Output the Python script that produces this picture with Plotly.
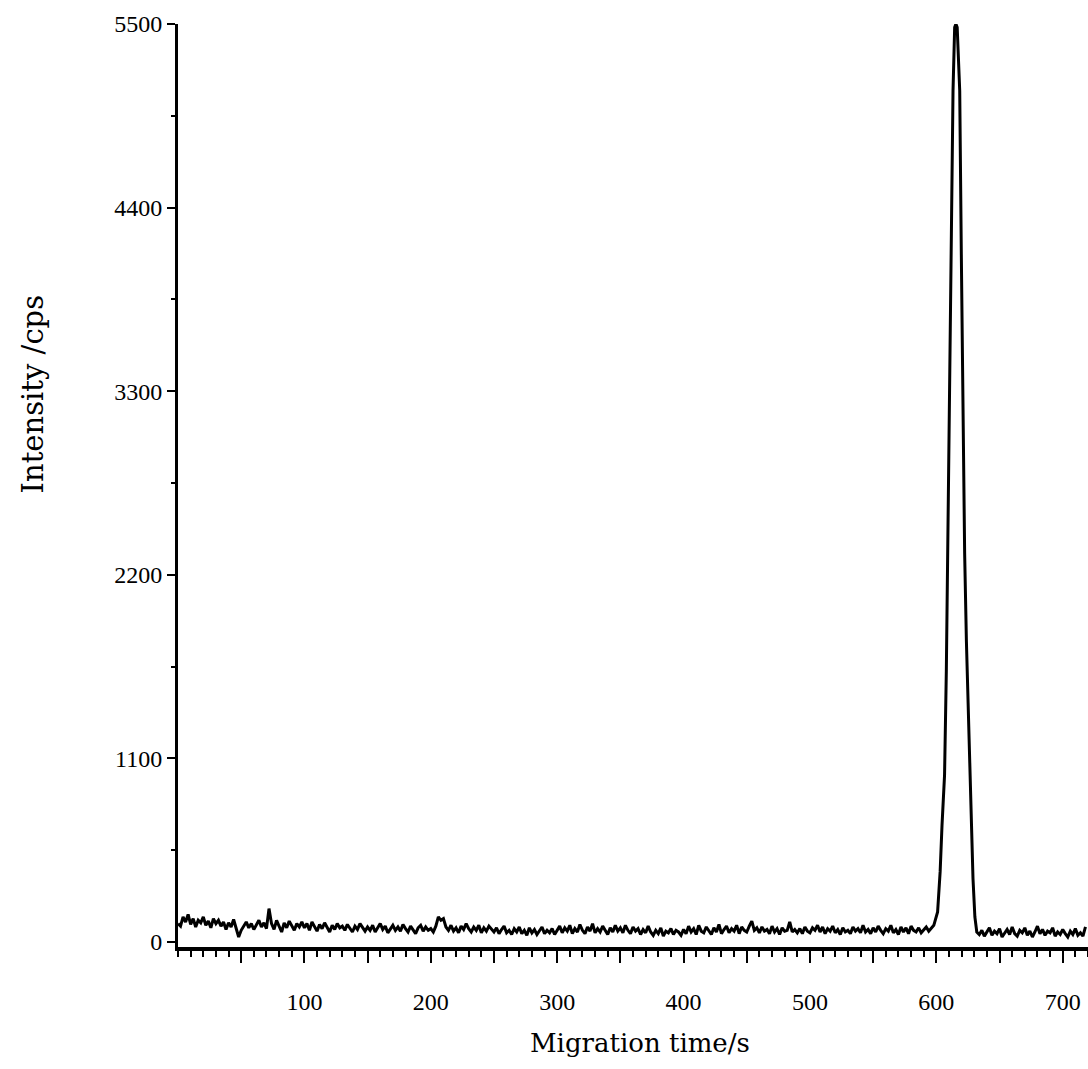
import plotly.graph_objects as go

# ---- data ----
# baseline before the peak, one value every 2 s from 0 s to 598 s
baseline_start_cps = [
    110, 95, 150, 120, 165, 105, 140, 90, 130, 115, 150, 100, 125, 85, 140, 110, 130, 95, 120, 75, 115, 90, 135, 80, 30,
    70, 95, 120, 85, 110, 75, 100, 130, 90, 115, 80, 200, 110, 75, 130, 95, 60, 115, 85, 125, 100, 70, 110, 90, 120,
    85, 110, 70, 120, 95, 65, 105, 80, 115, 90, 60, 100, 75, 110, 85, 95, 70, 105, 80, 60, 95, 75, 110, 85, 65,
    90, 70, 100, 60, 85, 110, 75, 95, 55, 80, 100, 70, 90, 65, 105, 80, 60, 95, 75, 50, 85, 100, 65, 90, 70,
    80, 60, 95, 150, 130, 140, 90, 70, 100, 65, 85, 55, 95, 75, 110, 80, 60, 90, 70, 100, 55, 85, 65, 95, 75,
    60, 85, 50, 75, 95, 55, 70, 45, 80, 60, 90, 50, 70, 40, 85, 55, 75, 45, 65, 90, 50, 70, 55, 80, 45,
    75, 95, 55, 85, 65, 100, 50, 80, 60, 105, 70, 50, 90, 65, 110, 55, 80, 60, 95, 70, 45, 85, 60, 100, 65,
    85, 55, 100, 70, 50, 90, 65, 80, 45, 75, 55, 95, 60, 40, 70, 50, 85, 35, 65, 55, 80, 45, 70, 60, 40,
    75, 50, 95, 60, 80, 45, 100, 65, 55, 90, 70, 45, 85, 60, 105, 50, 75, 95, 55, 80, 65, 100, 50, 90, 70,
    60, 95, 125, 70, 85, 55, 90, 65, 75, 50, 95, 60, 80, 45, 85, 65, 70, 120, 60, 75, 55, 80, 50, 90, 65,
    55, 85, 70, 100, 60, 90, 50, 80, 65, 95, 55, 75, 45, 85, 60, 70, 50, 90, 65, 80, 55, 100, 60, 75, 50,
    85, 60, 95, 70, 50, 80, 65, 100, 55, 75, 45, 90, 60, 85, 50, 95, 70, 60, 85, 55, 75, 90, 65, 80, 100,
]
baseline_start_time_s = list(range(0, 600, 2))

# the migration peak
peak_time_s = [601, 603, 604.5, 606.5, 607.9, 609.2, 610.5, 611.9, 613.2, 614.5, 615.5, 616.5,
               618.5, 619.8, 621.1, 622.4, 623.8, 625, 626.4, 628, 629, 630.5, 632]
peak_cps = [180, 420, 700, 1000, 1620, 2510, 3400, 4280, 5100, 5480, 5500, 5480,
            5100, 4100, 3040, 2330, 1800, 1450, 1090, 700, 380, 150, 60]

# baseline after the peak, one value every 2 s from 634 s to 718 s
baseline_end_cps = [
    45, 70, 35, 60, 85, 40, 65, 50, 80, 30, 55, 75, 45, 90, 50, 35, 70, 55, 85, 40, 65, 30,
    60, 95, 50, 75, 40, 65, 55, 85, 35, 60, 45, 75, 50, 30, 65, 45, 80, 40, 55, 35, 90,
]
baseline_end_time_s = list(range(634, 720, 2))

x_tick_vals = [50, 100, 150, 200, 250, 300, 350, 400, 450, 500, 550, 600, 650, 700]
x_tick_text = ["", "100", "", "200", "", "300", "", "400", "", "500", "", "600", "", "700"]
y_tick_vals = [0, 1100, 2200, 3300, 4400, 5500]

x_title = "Migration time/s"
y_title = "Intensity /cps"

# ---- figure ----
time_s = baseline_start_time_s + peak_time_s + baseline_end_time_s
intensity = baseline_start_cps + peak_cps + baseline_end_cps

FONT = "Liberation Serif, Times New Roman, serif"
TITLE_FONT = "DejaVu Serif, serif"

fig = go.Figure()
fig.add_trace(go.Scatter(x=time_s, y=intensity, mode="lines",
                         line=dict(color="black", width=3), showlegend=False))

fig.update_layout(
    width=1088, height=1069,
    margin=dict(l=178, r=0, t=24, b=122),
    paper_bgcolor="white", plot_bgcolor="white",
    font=dict(family=FONT, color="black", size=24),
    xaxis=dict(
        range=[0, 720], showgrid=False, zeroline=False,
        showline=True, linecolor="black", linewidth=4,
        tickmode="array", tickvals=x_tick_vals, ticktext=x_tick_text,
        ticks="outside", ticklen=12, tickwidth=2, tickcolor="black",
        ticklabelstandoff=18,
        tickfont=dict(family=FONT, size=24, color="black"),
        minor=dict(dtick=10, tick0=0, ticks="outside", ticklen=6, tickwidth=2, tickcolor="black"),
    ),
    yaxis=dict(
        range=[-30, 5500], showgrid=False, zeroline=False,
        showline=True, linecolor="black", linewidth=3,
        tickmode="array", tickvals=y_tick_vals,
        ticks="outside", ticklen=8, tickwidth=2, tickcolor="black",
        tickfont=dict(family=FONT, size=24, color="black"),
        minor=dict(dtick=550, tick0=0, ticks="outside", ticklen=4, tickwidth=2, tickcolor="black"),
    ),
    annotations=[
        dict(text=x_title, xref="paper", yref="paper", x=0.508, y=-0.104,
             showarrow=False, xanchor="center", yanchor="middle",
             font=dict(family=TITLE_FONT, size=26, color="black")),
        dict(text=y_title, xref="paper", yref="paper", x=-0.159, y=0.599,
             showarrow=False, xanchor="center", yanchor="middle", textangle=-90,
             font=dict(family=TITLE_FONT, size=29, color="black")),
    ],
)

fig.write_html("out.html")
